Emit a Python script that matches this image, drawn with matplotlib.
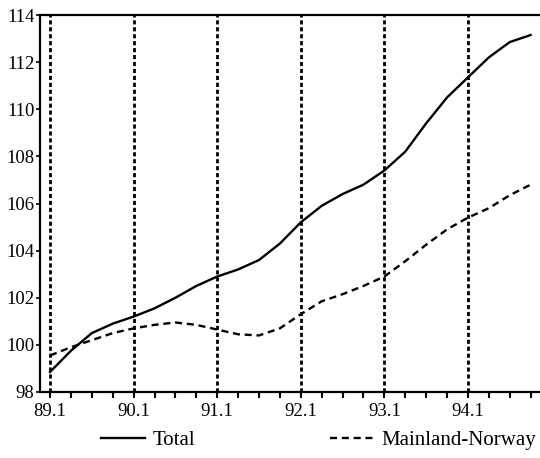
import matplotlib.pyplot as plt
import numpy as np

# ---- data (quarterly index, 89.1 .. 94.4) ----
quarters = [f"{y}.{q}" for y in range(89, 95) for q in range(1, 5)]
total = [98.85, 99.75, 100.5, 100.9, 101.2, 101.55, 102.0, 102.5,
         102.9, 103.2, 103.6, 104.3, 105.2, 105.9, 106.4, 106.8,
         107.4, 108.2, 109.4, 110.5, 111.35, 112.2, 112.85, 113.15]
mainland = [99.55, 99.9, 100.2, 100.5, 100.7, 100.85, 100.95, 100.85,
            100.65, 100.45, 100.4, 100.7, 101.3, 101.85, 102.15, 102.5,
            102.9, 103.55, 104.25, 104.9, 105.4, 105.8, 106.35, 106.8]
year_labels = ["89.1", "90.1", "91.1", "92.1", "93.1", "94.1"]
y_ticks = [98, 100, 102, 104, 106, 108, 110, 112, 114]

plt.rcParams["font.family"] = ["Liberation Serif", "DejaVu Serif"]

fig = plt.figure(figsize=(5.4, 4.58), dpi=100)
ax = fig.add_axes([40 / 540, 1 - 392 / 458, 1 - 40 / 540, (392 - 15) / 458])

x = np.arange(len(quarters))
year_pos = [quarters.index(lbl) for lbl in year_labels]

# dotted year separators
for xp in year_pos:
    ax.axvline(xp, color="black", lw=2.0, linestyle=(0, (1.5, 1.0)), zorder=1)

ax.plot(x, total, color="black", lw=1.7, label="Total", zorder=3)
ax.plot(x, mainland, color="black", lw=1.7, linestyle=(0, (3, 2)),
        label="Mainland-Norway", zorder=3)

ax.set_xlim(-0.48, 23.45)
ax.set_ylim(98, 114)

ax.set_xticks(year_pos)
ax.set_xticklabels(year_labels)
ax.set_xticks(x, minor=True)
ax.set_yticks(y_ticks)

ax.tick_params(axis="x", which="both", direction="out", length=4, width=1.5,
               labelsize=13.5, pad=4)
ax.tick_params(axis="y", which="major", direction="out", length=3, width=1.2,
               labelsize=13.5, pad=1)

for side in ["left", "top", "bottom"]:
    ax.spines[side].set_linewidth(1.6)
ax.spines["right"].set_visible(False)

fig.legend(loc="center", bbox_to_anchor=(0.59, 1 - 440 / 458), ncol=2,
           frameon=False, fontsize=15, handlelength=2.1, columnspacing=6.5,
           handletextpad=0.35)

fig.savefig("out.png", dpi=100)
